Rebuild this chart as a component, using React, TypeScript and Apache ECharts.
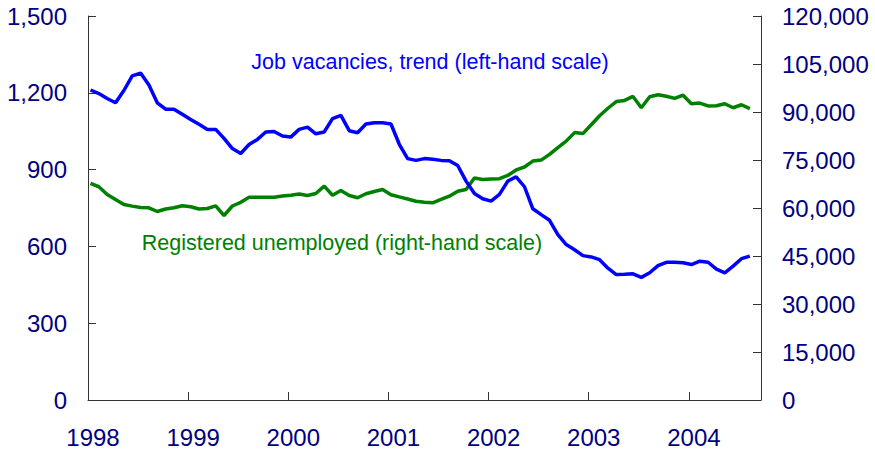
import React, { useEffect, useRef } from "react";
import * as echarts from "echarts";

// Monthly observations, January 1998 to August 2004
const startYear = 1998;
const vacancies = [
  1211, 1197, 1178, 1161, 1209, 1266, 1277, 1230, 1161, 1136, 1136, 1116,
  1096, 1077, 1057, 1057, 1022, 982, 963, 998, 1018, 1047, 1049, 1031,
  1027, 1057, 1066, 1040, 1047, 1099, 1112, 1052, 1044, 1078, 1083, 1083,
  1078, 999, 943, 936, 943, 940, 936, 935, 916, 855, 807, 786,
  777, 803, 855, 872, 833, 747, 724, 702, 646, 607, 587, 564,
  559, 548, 515, 490, 491, 493, 479, 497, 525, 538, 538, 536,
  529, 542, 538, 511, 497, 523, 552, 562,
];
const unemployed = [
  67670, 66640, 64230, 62660, 61090, 60590, 60150, 60060, 58900, 59680, 60060, 60720,
  60370, 59680, 59840, 60680, 57650, 60620, 61780, 63350, 63380, 63380, 63380, 63720,
  64000, 64350, 63910, 64540, 66830, 63980, 65480, 63910, 63190, 64450, 65170, 65790,
  64160, 63470, 62820, 62100, 61810, 61630, 62660, 63690, 65260, 65790, 69400, 68930,
  69080, 69150, 70180, 71900, 72810, 74660, 74970, 76760, 78890, 80900, 83560, 83250,
  86000, 88820, 91170, 93270, 93610, 94870, 91330, 94780, 95400, 94930, 94240, 95240,
  92580, 92800, 91890, 91950, 92580, 91330, 92270, 91080,
];
const yearTicks = [1998, 1999, 2000, 2001, 2002, 2003, 2004];
const leftTicks = [0, 300, 600, 900, 1200, 1500];
const rightTicks = [0, 15000, 30000, 45000, 60000, 75000, 90000, 105000, 120000];
const vacLabel = "Job vacancies, trend (left-hand scale)";
const unempLabel = "Registered unemployed (right-hand scale)";

const monthX = (i: number) => startYear + (i + 0.3) / 12;

export default function App() {
  const ref = useRef<HTMLDivElement>(null);
  useEffect(() => {
    if (!ref.current) return;
    const chart = echarts.init(ref.current, undefined, { renderer: "svg" });
    const font = "'Liberation Sans', Arial, sans-serif";
    const navy = "#000080";
    const axisCol = "#333333";
    const fmt = (v: number) => v.toLocaleString("en-US");
    chart.setOption({
      animation: false,
      textStyle: { fontFamily: font },
      grid: { left: 88, right: 114, top: 16, bottom: 54, containLabel: false },
      xAxis: {
        type: "value",
        min: yearTicks[0],
        max: 2004.72,
        interval: 1,
        axisLine: { show: true, onZero: false, lineStyle: { color: axisCol, width: 1 } },
        axisTick: { show: true, inside: true, length: 8, lineStyle: { color: axisCol } },
        splitLine: { show: false },
        axisLabel: {
          color: navy,
          fontSize: 24,
          fontFamily: font,
          margin: 25,
          padding: [0, 0, 0, 10],
          showMaxLabel: false,
          formatter: (v: number) => (yearTicks.includes(Math.round(v * 1000) / 1000) ? String(v) : ""),
        },
      },
      yAxis: [
        {
          type: "value",
          position: "left",
          min: leftTicks[0],
          max: leftTicks[leftTicks.length - 1],
          interval: 300,
          axisLine: { show: true, lineStyle: { color: axisCol, width: 1 } },
          axisTick: { show: true, inside: true, length: 8, lineStyle: { color: axisCol } },
          splitLine: { show: false },
          axisLabel: { color: navy, fontSize: 24, fontFamily: font, margin: 21, formatter: fmt },
        },
        {
          type: "value",
          position: "right",
          min: rightTicks[0],
          max: rightTicks[rightTicks.length - 1],
          interval: 15000,
          axisLine: { show: true, lineStyle: { color: axisCol, width: 1 } },
          axisTick: { show: true, inside: true, length: 8, lineStyle: { color: axisCol } },
          splitLine: { show: false },
          axisLabel: { color: navy, fontSize: 24, fontFamily: font, margin: 21, formatter: fmt },
        },
      ],
      series: [
        {
          name: "Job vacancies",
          type: "line",
          yAxisIndex: 0,
          data: vacancies.map((v, i) => [monthX(i), v]),
          showSymbol: false,
          lineStyle: { color: "#0000ff", width: 3.5 },
          itemStyle: { color: "#0000ff" },
          z: 3,
        },
        {
          name: "Registered unemployed",
          type: "line",
          yAxisIndex: 1,
          data: unemployed.map((v, i) => [monthX(i), v]),
          showSymbol: false,
          lineStyle: { color: "#008000", width: 3.5 },
          itemStyle: { color: "#008000" },
          z: 2,
        },
      ],
      graphic: [
        {
          type: "text",
          x: 430,
          y: 62,
          style: {
            text: vacLabel,
            fill: "#0000ff",
            font: `21.5px ${font}`,
            textAlign: "center",
            textVerticalAlign: "middle",
          },
        },
        {
          type: "text",
          x: 342,
          y: 243,
          style: {
            text: unempLabel,
            fill: "#008000",
            font: `21.5px ${font}`,
            textAlign: "center",
            textVerticalAlign: "middle",
          },
        },
      ],
    });
    return () => chart.dispose();
  }, []);
  return (
    <div
      ref={ref}
      style={{ position: "fixed", left: 0, top: 0, width: 875, height: 454, background: "#fff" }}
    />
  );
}
